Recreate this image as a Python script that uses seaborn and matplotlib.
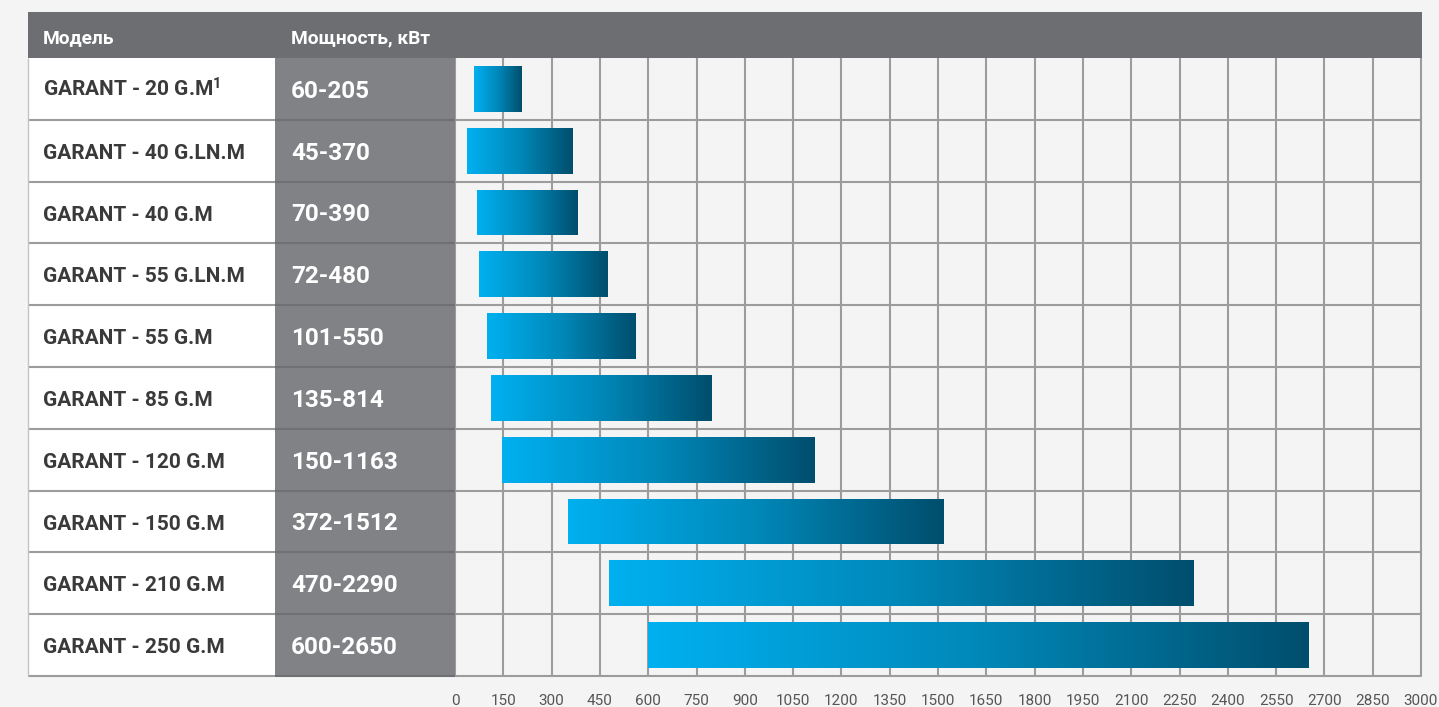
import numpy as np
import pandas as pd
import matplotlib
matplotlib.use('Agg')
import matplotlib.pyplot as plt
from matplotlib.patches import Rectangle
from matplotlib.colors import LinearSegmentedColormap
import seaborn as sns

models = ['GARANT - 20 G.M$^{1}$', 'GARANT - 40 G.LN.M', 'GARANT - 40 G.M',
          'GARANT - 55 G.LN.M', 'GARANT - 55 G.M', 'GARANT - 85 G.M',
          'GARANT - 120 G.M', 'GARANT - 150 G.M', 'GARANT - 210 G.M',
          'GARANT - 250 G.M']
power_labels = ['60-205', '45-370', '70-390', '72-480', '101-550', '135-814',
                '150-1163', '372-1512', '470-2290', '600-2650']
# bar extents as drawn in the picture
bar_start = [59, 38, 69, 74, 98, 111, 145, 350, 478, 599]
bar_end = [205, 365, 381, 474, 559, 797, 1114, 1516, 2294, 2649]
x_ticks = list(range(0, 3001, 150))

sns.set_theme(style='white')
plt.rcParams['font.family'] = ['Roboto', 'DejaVu Sans']
plt.rcParams['mathtext.fontset'] = 'custom'
plt.rcParams['mathtext.rm'] = 'Roboto:bold'
plt.rcParams['mathtext.it'] = 'Roboto:bold'
plt.rcParams['mathtext.bf'] = 'Roboto:bold'

W, H = 1439, 707
fig = plt.figure(figsize=(W / 100, H / 100), dpi=100)
fig.patch.set_facecolor('#f4f4f4')


def box(x0, y0, x1, y1):
    # pixel box (top-left origin) -> figure fraction rect
    return [x0 / W, 1 - y1 / H, (x1 - x0) / W, (y1 - y0) / H]


df = pd.DataFrame({'model': models, 'label': power_labels,
                   'lo': bar_start, 'hi': bar_end})
df['span'] = df['hi'] - df['lo']
n = len(df)

# bars
ax = fig.add_axes(box(455, 58, 1421, 676))
ax.set_facecolor('#f4f4f4')
sns.barplot(data=df, x='span', y='model', orient='h', width=0.74,
            color='#00a0d8', ax=ax, zorder=3)

cmap = LinearSegmentedColormap.from_list('bar', ['#00b0f0', '#0088b9', '#004e6d'])
grad = np.linspace(0, 1, 256).reshape(1, -1)
for patch, lo in zip(ax.patches, df['lo']):
    patch.set_x(lo)
    patch.set_facecolor('none')
    patch.set_edgecolor('none')
    x0, y0 = patch.get_x(), patch.get_y()
    im = ax.imshow(grad, extent=[x0, x0 + patch.get_width(), y0, y0 + patch.get_height()],
                   aspect='auto', cmap=cmap, zorder=3, interpolation='bicubic')
    im.set_clip_path(patch)

ax.set_xlim(0, 3000)
ax.set_ylim(n - 0.5, -0.5)
ax.set_xticks(x_ticks)
ax.set_xticklabels([str(t) for t in x_ticks])
ax.set_yticks([])
ax.set_xlabel('')
ax.set_ylabel('')
ax.grid(axis='x', color='#9c9c9c', lw=1.5)
ax.set_axisbelow(True)
for gl in ax.get_xgridlines():
    gl.set_clip_on(False)
ax.hlines([i + 0.5 for i in range(n)], 0, 3000, color='#9c9c9c', lw=1.5, zorder=1, clip_on=False)
ax.tick_params(axis='x', length=0, pad=13, labelsize=11, labelcolor='#555555')
for s in ax.spines.values():
    s.set_visible(False)

# left table columns
lax = fig.add_axes(box(28, 58, 455, 676))
lax.set_xlim(28, 455)
lax.set_ylim(n - 0.5, -0.5)
lax.axis('off')
lax.add_patch(Rectangle((28, -0.5), 247, n, facecolor='white', edgecolor='none', zorder=0))
lax.add_patch(Rectangle((275, -0.5), 180, n, facecolor='#818286', edgecolor='none', zorder=0))
lax.hlines([i + 0.5 for i in range(n)], 28, 275, color='#9c9c9c', lw=1.5, clip_on=False)
lax.hlines([i + 0.5 for i in range(n)], 275, 455, color='#6f7074', lw=1.5, clip_on=False)
lax.vlines(28, -0.5, n - 0.5, color='#c4c4c4', lw=1, clip_on=False)
for i, row in df.iterrows():
    lax.text(43, i + 0.13, row['model'], ha='left', va='baseline', fontsize=15,
             fontweight='bold', color='#3a3a3a')
    lax.text(291, i + 0.145, row['label'], ha='left', va='baseline', fontsize=17.5,
             fontweight='bold', color='white')

# header
hax = fig.add_axes(box(28, 12, 1422, 58))
hax.set_facecolor('#6d6e72')
hax.set_xticks([])
hax.set_yticks([])
for s in hax.spines.values():
    s.set_visible(False)
fig.text(43 / W, 1 - 43 / H, 'Модель', ha='left', va='baseline', fontsize=13.8,
         fontweight='bold', color='white')
fig.text(291 / W, 1 - 43 / H, 'Мощность, кВт', ha='left', va='baseline', fontsize=13.8,
         fontweight='bold', color='white')

fig.savefig('out.png', dpi=100, facecolor=fig.get_facecolor())
